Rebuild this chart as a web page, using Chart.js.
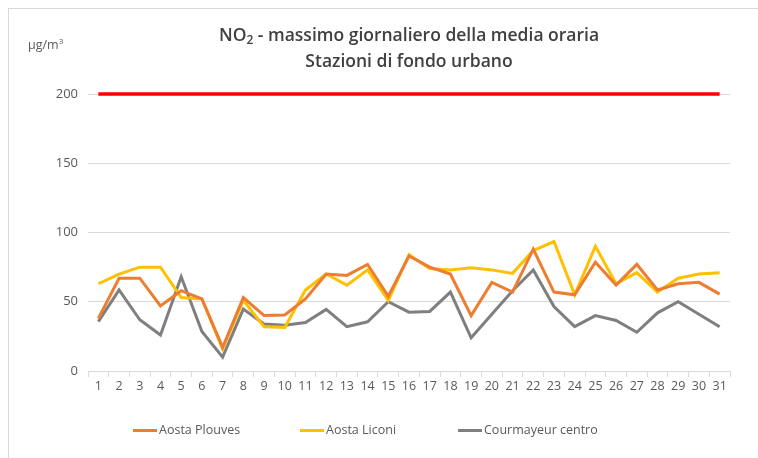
<!DOCTYPE html>
<html>
<head>
<meta charset="utf-8">
<script src="https://cdn.jsdelivr.net/npm/chart.js@4/dist/chart.umd.min.js"></script>
<style>
  html, body { margin:0; padding:0; background:#fff; }
  #wrap { position:relative; width:758px; height:458px; font-family:"Open Sans", sans-serif; }
  #frame { position:absolute; left:8px; top:8px; right:0; bottom:0; border-left:1px solid #d9d9d9; border-top:1px solid #d9d9d9; }
  #title { position:absolute; left:88px; width:642px; top:21px; text-align:center; color:#404040; font-size:17.5px; font-weight:600; line-height:26px; }
  #title sub { font-size:12px; vertical-align:-3px; line-height:0; }
  #unit { position:absolute; left:28px; top:36px; color:#595959; font-size:12.5px; }
  #unit sup { font-size:8px; vertical-align:5px; line-height:0; }
  #legend { position:absolute; top:421px; left:0; width:758px; font-size:12.5px; color:#595959; }
  .item { position:absolute; white-space:nowrap; }
  .item i { display:inline-block; width:24px; height:3px; vertical-align:middle; margin-right:2px; }
  canvas { position:absolute; left:0; top:0; }
</style>
</head>
<body>
<div id="wrap">
  <div id="frame"></div>
  <canvas id="no2Chart" width="758" height="458"></canvas>
  <div id="title">NO<sub>2</sub> - massimo giornaliero della media oraria<br>Stazioni di fondo urbano</div>
  <div id="unit">µg/m<sup>3</sup></div>
  <div id="legend"></div>
</div>
<script>

const days = [
    "1","2","3","4","5","6","7","8","9","10",
    "11","12","13","14","15","16","17","18","19","20",
    "21","22","23","24","25","26","27","28","29","30","31"
];

const aostaPlouves = [
    38,67,67,47,58,52,17,53,40,40.5,
    52,70,69,77,54,83,75,70,40,64,
    57,88,57,55,78.5,62,77,58.5,63,64,55.5
];

const aostaLiconi = [
    63,70,75,75,53,52,16,51,32,31.5,
    58.5,70,62,73,51,84,74,73,74.5,73,
    70.5,87,93.5,55,90,63,71,57,67,70,71
];

const courmayeur = [
    35.7,58.5,37,26,68,28.5,10,44.7,34,33,
    35,44.5,32,35.5,50,42.5,43,57,24,41,
    58,73,46.5,32,40,36.5,28,42,50,41,32
];

const limitValue = 200;
const limitLine = days.map(() => limitValue);

const seriesList = [
    { label:"Aosta Plouves", data:aostaPlouves, color:"#ED7D31" },
    { label:"Aosta Liconi", data:aostaLiconi, color:"#FFC000" },
    { label:"Courmayeur centro", data:courmayeur, color:"#7F7F7F" }
];

const datasets = seriesList.map(s => ({
    label:s.label,
    data:s.data,
    borderColor:s.color,
    backgroundColor:s.color,
    borderWidth:3,
    pointRadius:0,
    tension:0
}));

// limite orario
datasets.push({
    label:"Limite",
    data:limitLine,
    borderColor:"#FF0000",
    backgroundColor:"#FF0000",
    borderWidth:3.5,
    pointRadius:0,
    clip:false
});

new Chart(
    document.getElementById("no2Chart"),
    {
        type:"line",
        data:{
            labels:days,
            datasets:datasets
        },
        options:{
            responsive:false,
            animation:false,
            layout:{
                padding:{ top:94, right:28, bottom:62, left:10 }
            },
            plugins:{
                legend:{ display:false },
                tooltip:{ enabled:false }
            },
            scales:{
                x:{
                    offset:true,
                    grid:{
                        offset:true,
                        drawOnChartArea:false,
                        drawTicks:true,
                        tickLength:6,
                        color:"#d9d9d9"
                    },
                    border:{ color:"#d9d9d9" },
                    ticks:{
                        color:"#595959",
                        font:{ family:"Open Sans", size:12.5 },
                        maxRotation:0,
                        autoSkip:false,
                        padding:2
                    }
                },
                y:{
                    min:0,
                    max:200,
                    afterFit:(scale)=>{ scale.width = 78; },
                    ticks:{
                        stepSize:50,
                        color:"#595959",
                        font:{ family:"Open Sans", size:13 },
                        padding:10
                    },
                    grid:{
                        color:"#d9d9d9",
                        drawTicks:false
                    },
                    border:{ display:false }
                }
            }
        }
    }
);

// legenda
const legendPos = [133, 300, 458];
const legend = document.getElementById("legend");
seriesList.forEach((s,i)=>{
    const item = document.createElement("span");
    item.className = "item";
    item.style.left = legendPos[i] + "px";
    item.innerHTML = '<i style="background:' + s.color + '"></i>' + s.label;
    legend.appendChild(item);
});

</script>
</body>
</html>
